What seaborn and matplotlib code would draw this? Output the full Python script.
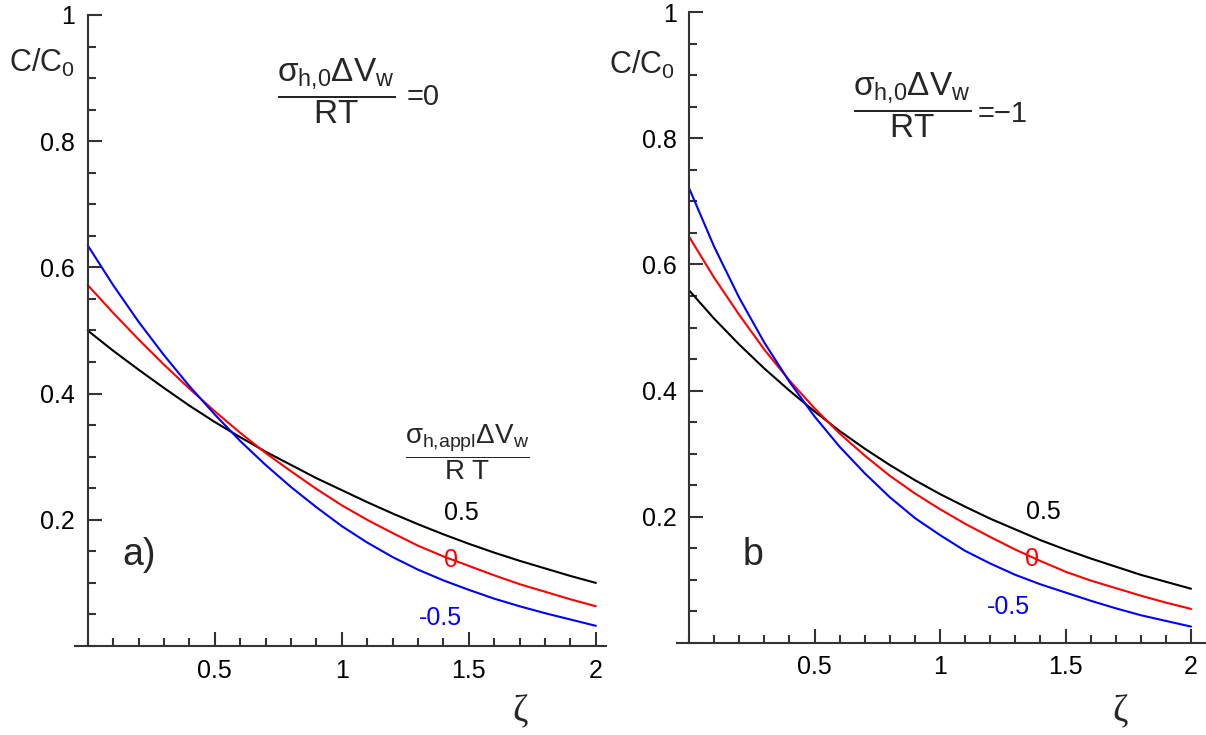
import matplotlib
matplotlib.use("Agg")
import matplotlib.pyplot as plt
import seaborn as sns
import pandas as pd
from matplotlib.ticker import FixedLocator, MultipleLocator, NullFormatter

# ---------------- data ----------------
zeta = [0.0, 0.1, 0.2, 0.3, 0.4, 0.5, 0.6, 0.7, 0.8, 0.9, 1.0,
        1.1, 1.2, 1.3, 1.4, 1.5, 1.6, 1.7, 1.8, 1.9, 2.0]

# panel a)  sigma_h,0 dV_w / RT = 0
a_pos05 = [0.500, 0.468, 0.438, 0.409, 0.381, 0.355, 0.331, 0.308, 0.287, 0.266, 0.247,
           0.228, 0.210, 0.193, 0.177, 0.162, 0.148, 0.135, 0.123, 0.111, 0.100]
a_zero = [0.572, 0.528, 0.486, 0.446, 0.408, 0.372, 0.338, 0.306, 0.277, 0.249, 0.223,
          0.200, 0.179, 0.159, 0.142, 0.127, 0.112, 0.098, 0.086, 0.074, 0.063]
a_neg05 = [0.635, 0.572, 0.514, 0.461, 0.412, 0.367, 0.325, 0.287, 0.252, 0.220, 0.190,
           0.164, 0.141, 0.121, 0.104, 0.089, 0.075, 0.063, 0.052, 0.042, 0.032]

# panel b)  sigma_h,0 dV_w / RT = -1
b_pos05 = [0.559, 0.514, 0.473, 0.435, 0.400, 0.367, 0.336, 0.308, 0.282, 0.258, 0.236,
           0.216, 0.197, 0.180, 0.163, 0.148, 0.134, 0.121, 0.108, 0.097, 0.086]
b_zero = [0.644, 0.579, 0.520, 0.465, 0.416, 0.372, 0.332, 0.297, 0.265, 0.237, 0.212,
          0.189, 0.168, 0.148, 0.130, 0.113, 0.099, 0.087, 0.075, 0.064, 0.054]
b_neg05 = [0.721, 0.628, 0.547, 0.476, 0.414, 0.359, 0.311, 0.269, 0.231, 0.198, 0.171,
           0.146, 0.126, 0.108, 0.093, 0.080, 0.067, 0.055, 0.044, 0.035, 0.026]

series_labels = ["0.5", "0", "-0.5"]
series_colors = ["#000000", "#ff0000", "#0000ff"]
panel_values = ["=0", "=\u22121"]
panel_tags = ["a)", "b"]

x_ticks = [0.5, 1.0, 1.5, 2.0]
x_tick_labels = ["0.5", "1", "1.5", "2"]
y_ticks = [0.2, 0.4, 0.6, 0.8, 1.0]
y_tick_labels = ["0.2", "0.4", "0.6", "0.8", "1"]

rows = []
for panel, curves in (("a", (a_pos05, a_zero, a_neg05)), ("b", (b_pos05, b_zero, b_neg05))):
    for lab, vals in zip(series_labels, curves):
        for z, c in zip(zeta, vals):
            rows.append({"panel": panel, "series": lab, "zeta": z, "C": c})
df = pd.DataFrame(rows)

# ---------------- style ----------------
sns.set_theme(style="white")
plt.rcParams["font.family"] = ["Liberation Sans", "DejaVu Sans"]
plt.rcParams["mathtext.fontset"] = "custom"
plt.rcParams["mathtext.rm"] = "Liberation Sans"
plt.rcParams["mathtext.it"] = "Liberation Sans"
plt.rcParams["mathtext.sf"] = "Liberation Sans"
plt.rcParams["mathtext.bf"] = "Liberation Sans:bold"

W, H = 1206, 735
fig = plt.figure(figsize=(W / 100, H / 100), dpi=100)

axes_pos = [
    [75 / W, (H - 646) / H, 531 / W, 631 / H],
    [676.5 / W, (H - 643) / H, 529.6 / W, 631 / H],
]
xlims = [(-0.05, 2.04), (-0.05, 2.06)]
axcol = "#333333"
palette = dict(zip(series_labels, series_colors))

for i, panel in enumerate(["a", "b"]):
    ax = fig.add_axes(axes_pos[i])
    sub = df[df["panel"] == panel]
    sns.lineplot(data=sub, x="zeta", y="C", hue="series", hue_order=series_labels,
                 palette=palette, ax=ax, legend=False, linewidth=1.5,
                 estimator=None, sort=False)
    ax.set_xlim(*xlims[i])
    ax.set_ylim(0, 1.0)
    ax.set_xlabel("")
    ax.set_ylabel("")
    for s in ("top", "right"):
        ax.spines[s].set_visible(False)
    ax.spines["left"].set_position(("data", 0))
    for s in ("left", "bottom"):
        ax.spines[s].set_color(axcol)
        ax.spines[s].set_linewidth(1.5)
    ax.xaxis.set_major_locator(FixedLocator(x_ticks))
    ax.set_xticklabels(x_tick_labels)
    ax.xaxis.set_minor_locator(MultipleLocator(0.1))
    ax.yaxis.set_major_locator(FixedLocator(y_ticks))
    ax.set_yticklabels(y_tick_labels)
    ax.yaxis.set_minor_locator(MultipleLocator(0.05))
    ax.xaxis.set_minor_formatter(NullFormatter())
    ax.yaxis.set_minor_formatter(NullFormatter())
    ax.tick_params(axis="both", which="major", direction="in", length=10, width=1.5,
                   color=axcol, labelsize=18, labelcolor="#000000")
    ax.tick_params(axis="both", which="minor", direction="in", length=6, width=1.5,
                   color=axcol)
    ax.tick_params(axis="y", which="major", pad=9)
    ax.tick_params(axis="x", which="major", pad=9)
    ax.tick_params(left=True, bottom=True, which="both")
    ax.patch.set_alpha(0)


def ftext(px, py, s, **kw):
    fig.text(px / W, 1 - py / H, s, **kw)


frac0 = r"$\dfrac{\sigma_{\mathrm{h{,}0}}\Delta\mathrm{V}_{\mathrm{w}}}{\mathrm{RT}}$"
fracA = r"$\dfrac{\sigma_{\mathrm{h{,}appl}}\Delta\mathrm{V}_{\mathrm{w}}}{\mathrm{R\ T}}$"

# panel a texts
ftext(42, 63, r"C/C$_0$", fontsize=22, ha="center", va="center")
ftext(336, 91, frac0, fontsize=24, ha="center", va="center")
ftext(423, 97, panel_values[0], fontsize=21, ha="center", va="center")
ftext(467, 452, fracA, fontsize=20, ha="center", va="center")
ftext(461, 513, series_labels[0], fontsize=18, color=series_colors[0], ha="center", va="center")
ftext(451, 560, series_labels[1], fontsize=18, color=series_colors[1], ha="center", va="center")
ftext(440, 618, series_labels[2], fontsize=18, color=series_colors[2], ha="center", va="center")
ftext(139, 555, panel_tags[0], fontsize=27, ha="center", va="center")
ftext(520, 712, "\u03b6", fontsize=27, ha="center", va="center",
      family=["Liberation Serif", "DejaVu Serif"])

# panel b texts
ftext(642, 65, r"C/C$_0$", fontsize=22, ha="center", va="center")
ftext(912, 105, frac0, fontsize=24, ha="center", va="center")
ftext(1003, 114, panel_values[1], fontsize=21, ha="center", va="center")
ftext(1043, 512, series_labels[0], fontsize=18, color=series_colors[0], ha="center", va="center")
ftext(1032, 559, series_labels[1], fontsize=18, color=series_colors[1], ha="center", va="center")
ftext(1008, 607, series_labels[2], fontsize=18, color=series_colors[2], ha="center", va="center")
ftext(753, 555, panel_tags[1], fontsize=27, ha="center", va="center")
ftext(1120, 712, "\u03b6", fontsize=27, ha="center", va="center",
      family=["Liberation Serif", "DejaVu Serif"])

fig.savefig("out.png", dpi=100)
